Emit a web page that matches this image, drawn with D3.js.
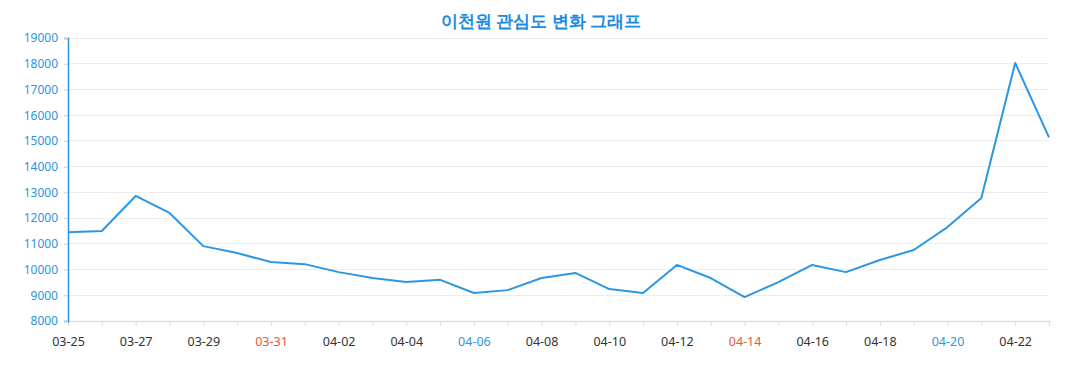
<!DOCTYPE html>
<html><head><meta charset="utf-8">
<script src="https://cdn.jsdelivr.net/npm/d3@7"></script>
<style>body{margin:0;background:#fff;}svg{display:block;font-family:"Noto Sans","Open Sans",sans-serif;}</style>
</head><body><svg id="c" width="1077" height="390"></svg>
<script>
const title = "이천원 관심도 변화 그래프";
const dates = ["03-25","03-26","03-27","03-28","03-29","03-30","03-31","04-01","04-02","04-03","04-04","04-05","04-06","04-07","04-08","04-09","04-10","04-11","04-12","04-13","04-14","04-15","04-16","04-17","04-18","04-19","04-20","04-21","04-22","04-23"];
const values = [11450,11500,12860,12200,10910,10640,10290,10210,9900,9670,9520,9600,9090,9200,9670,9870,9240,9090,10180,9670,8930,9510,10180,9900,10370,10760,11650,12780,18030,15140];
const yTicks = [8000,9000,10000,11000,12000,13000,14000,15000,16000,17000,18000,19000];
const redDates = ["03-31","04-14"];
const blueDates = ["04-06","04-20"];

const svg = d3.select("#c");
const L = 68, R = 1049, T = 38, B = 321;
const x = d3.scalePoint().domain(dates).range([L, R]);
const y = d3.scaleLinear().domain([8000, 19000]).range([B, T]);

svg.append("text").attr("x", 541).attr("y", 27).attr("text-anchor", "middle")
  .attr("font-size", 17.2).attr("font-weight", "bold").attr("fill", "#1a8be3").text(title);

// grid
svg.append("g").selectAll("line").data(yTicks).join("line")
  .attr("x1", L).attr("x2", R).attr("y1", d => y(d)).attr("y2", d => y(d))
  .attr("stroke", "#eeeeee").attr("stroke-width", 1).attr("shape-rendering", "crispEdges");

// x axis
const xa = svg.append("g").attr("transform", `translate(0,${B})`)
  .call(d3.axisBottom(x).tickSize(5).tickPadding(11)
    .tickFormat((d, i) => i % 2 === 0 ? d : ""));
xa.select(".domain").attr("stroke", "#dddddd").attr("stroke-width", 1.5);
xa.selectAll(".tick line").attr("stroke", "#dddddd");
xa.selectAll(".tick text").attr("font-size", 12.5).attr("font-family", "Noto Sans, Open Sans, sans-serif")
  .attr("fill", d => redDates.includes(d) ? "#e2583a" : blueDates.includes(d) ? "#2b98d8" : "#333");

// y axis
const ya = svg.append("g").attr("transform", `translate(${L},0)`)
  .call(d3.axisLeft(y).tickValues(yTicks).tickSize(4).tickPadding(6).tickFormat(d3.format("d")));
ya.select(".domain").attr("stroke", "#2b95de").attr("stroke-width", 1.5);
ya.selectAll(".tick line").attr("stroke", "#cccccc");
ya.selectAll(".tick text").attr("font-size", 12).attr("font-family", "Noto Sans, Open Sans, sans-serif")
  .attr("fill", "#2b95de");

// line
const line = d3.line().x((d, i) => x(dates[i])).y(d => y(d));
svg.append("path").datum(values).attr("d", line).attr("fill", "none")
  .attr("stroke", "#2b97e3").attr("stroke-width", 2).attr("stroke-linejoin", "round");
</script></body></html>
